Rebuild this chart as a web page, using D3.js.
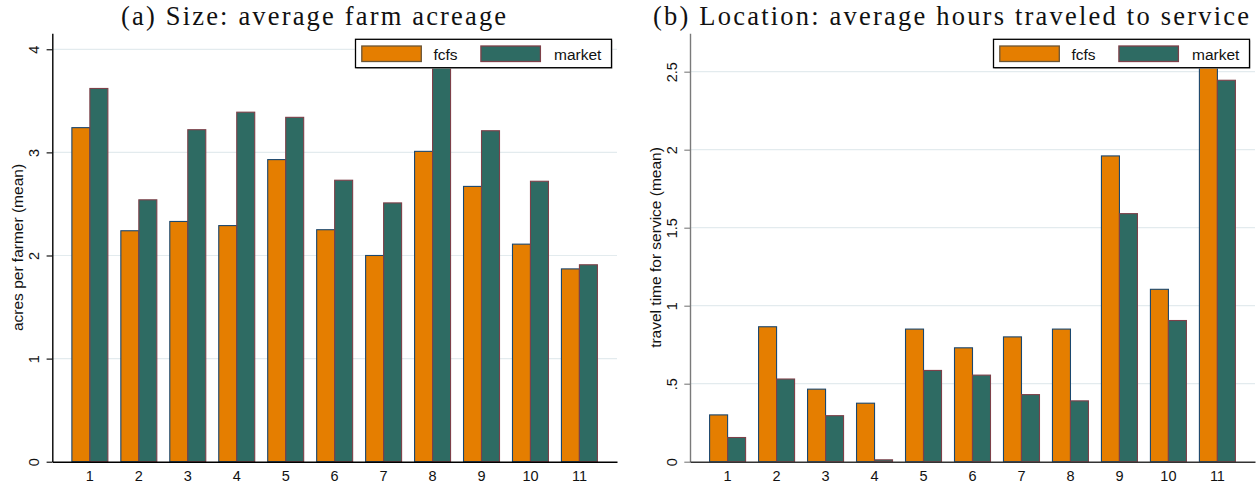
<!DOCTYPE html>
<html>
<head>
<meta charset="utf-8">
<script src="https://cdn.jsdelivr.net/npm/d3@7/dist/d3.min.js"></script>
<style>
  html, body { margin: 0; padding: 0; background: #fff; }
  svg { display: block; }
</style>
</head>
<body>
<svg id="chart" width="1258" height="490"></svg>
<script>
// ---- data ----
const categories = ["1","2","3","4","5","6","7","8","9","10","11"];
const seriesNames = ["fcfs","market"];

const sizeFcfs   = [3.24, 2.24, 2.33, 2.29, 2.93, 2.25, 2.00, 3.01, 2.67, 2.11, 1.87];
const sizeMarket = [3.62, 2.54, 3.22, 3.39, 3.34, 2.73, 2.51, 4.05, 3.21, 2.72, 1.91];

const travelFcfs   = [0.30, 0.865, 0.465, 0.375, 0.85, 0.73, 0.80, 0.85, 1.96, 1.105, 2.68];
const travelMarket = [0.155, 0.53, 0.295, 0.012, 0.585, 0.555, 0.43, 0.39, 1.59, 0.905, 2.445];

const sizeTicks = [0, 1, 2, 3, 4];
const sizeTickLabels = ["0", "1", "2", "3", "4"];
const sizeAxisMax = 4.155;
const travelTicks = [0, 0.5, 1, 1.5, 2, 2.5];
const travelTickLabels = ["0", ".5", "1", "1.5", "2", "2.5"];
const travelAxisMax = 2.746;

const titleA = "(a) Size: average farm acreage";
const titleB = "(b) Location: average hours traveled to service";
const yTitleA = "acres per farmer (mean)";
const yTitleB = "travel time for service (mean)";

// ---- styles ----
const fillColors = ["#e57e00", "#2e6b63"];
const strokeColors = ["#1a476f", "#7d4049"];
const legendStroke = ["#6a5536", "#7d4049"];
const gridColor = "#e3ebee";
const sans = "'Liberation Sans', Arial, Helvetica, sans-serif";
const serif = "'Liberation Serif', 'Times New Roman', serif";

const svg = d3.select("#chart");

function panel(opts) {
  const g = svg.append("g");
  const top = 33.3, bottom = 461.7;
  const ymax = Math.max(opts.axisMax, d3.max([...opts.a, ...opts.b]));
  const y = d3.scaleLinear().domain([0, ymax]).range([bottom, top]);
  const x = d3.scaleBand().domain(categories).range([opts.left, opts.right])
    .paddingInner(0.265).paddingOuter(0.4);
  const xs = d3.scaleBand().domain(seriesNames).range([0, x.bandwidth()]).padding(0);

  // grid
  g.append("g").selectAll("line").data(opts.ticks.filter(t => t > 0)).join("line")
    .attr("x1", opts.left).attr("x2", opts.right)
    .attr("y1", d => y(d)).attr("y2", d => y(d))
    .attr("stroke", gridColor).attr("stroke-width", 1.2);

  // bars
  const rows = categories.map((c, i) => ({c, vals: [opts.a[i], opts.b[i]]}));
  const grp = g.append("g").selectAll("g").data(rows).join("g")
    .attr("transform", d => `translate(${x(d.c)},0)`);
  grp.selectAll("rect").data(d => d.vals.map((v, k) => ({v, k})))
    .join("rect")
    .attr("x", d => xs(seriesNames[d.k]))
    .attr("width", xs.bandwidth())
    .attr("y", d => y(d.v))
    .attr("height", d => y(0) - y(d.v))
    .attr("fill", d => fillColors[d.k])
    .attr("stroke", d => strokeColors[d.k])
    .attr("stroke-width", 1.1);

  // y axis
  const yAxis = d3.axisLeft(y).tickValues(opts.ticks)
    .tickFormat((d, i) => opts.tickLabels[i]).tickSize(5.7).tickSizeOuter(0);
  const ya = g.append("g").attr("transform", `translate(${opts.left},0)`).call(yAxis);
  ya.select(".domain").attr("stroke", opts.yAxisColor).attr("stroke-width", 1.4);
  ya.selectAll(".tick line").attr("stroke", opts.yAxisColor).attr("stroke-width", 1.1);
  ya.selectAll(".tick text")
    .attr("x", null).attr("dy", null)
    .attr("transform", "translate(-13.3,0) rotate(-90)")
    .attr("text-anchor", "middle")
    .attr("fill", "#111")
    .style("font-family", sans).style("font-size", "14.5px");

  // x axis
  const xAxis = d3.axisBottom(x).tickSize(0).tickSizeOuter(0);
  const xa = g.append("g").attr("transform", `translate(0,${bottom})`).call(xAxis);
  xa.select(".domain").attr("stroke", opts.xAxisColor).attr("stroke-width", 1.4);
  xa.selectAll(".tick text").attr("y", 19).attr("dy", null)
    .attr("fill", "#111")
    .style("font-family", sans).style("font-size", "14.5px");

  // y title
  g.append("text")
    .attr("transform", `translate(${opts.left - 29.5},${(top + bottom) / 2}) rotate(-90)`)
    .attr("text-anchor", "middle")
    .attr("fill", "#111")
    .style("font-family", sans).style("font-size", "15.5px")
    .text(opts.yTitle);

  // legend
  const lw = 256, lh = 28.4;
  const lx = opts.right - 5.5 - lw, ly = 39.3;
  const lg = g.append("g").attr("transform", `translate(${lx},${ly})`);
  lg.append("rect").attr("x", 1).attr("y", 1).attr("width", lw).attr("height", lh)
    .attr("fill", "#bbb");
  lg.append("rect").attr("width", lw).attr("height", lh)
    .attr("fill", "#fff").attr("stroke", "#000").attr("stroke-width", 1.3);
  const swX = [6.3, 125.4], txX = [78, 198.5];
  seriesNames.forEach((s, k) => {
    lg.append("rect").attr("x", swX[k]).attr("y", 6.7).attr("width", 59.5).attr("height", 15.5)
      .attr("fill", fillColors[k]).attr("stroke", legendStroke[k]).attr("stroke-width", 1.3);
    lg.append("text").attr("x", txX[k]).attr("y", 20.7)
      .attr("fill", "#111")
      .style("font-family", sans).style("font-size", "15.5px")
      .text(s);
  });

  // title
  g.append("text")
    .attr("x", opts.titleCenter - opts.titleWidth / 2).attr("y", 25)
    .attr("textLength", opts.titleWidth)
    .attr("lengthAdjust", "spacing")
    .attr("fill", "#111")
    .style("font-family", serif).style("font-size", "26.5px")
    .text(opts.title);
}

panel({
  a: sizeFcfs, b: sizeMarket, left: 52.3, right: 617, axisMax: sizeAxisMax,
  ticks: sizeTicks, tickLabels: sizeTickLabels,
  yAxisColor: "#000", xAxisColor: "#000",
  yTitle: yTitleA, title: titleA, titleCenter: 313.6, titleWidth: 385
});
panel({
  a: travelFcfs, b: travelMarket, left: 690, right: 1255, axisMax: travelAxisMax,
  ticks: travelTicks, tickLabels: travelTickLabels,
  yAxisColor: "#7a7a7a", xAxisColor: "#333",
  yTitle: yTitleB, title: titleB, titleCenter: 951, titleWidth: 596
});
</script>
</body>
</html>
